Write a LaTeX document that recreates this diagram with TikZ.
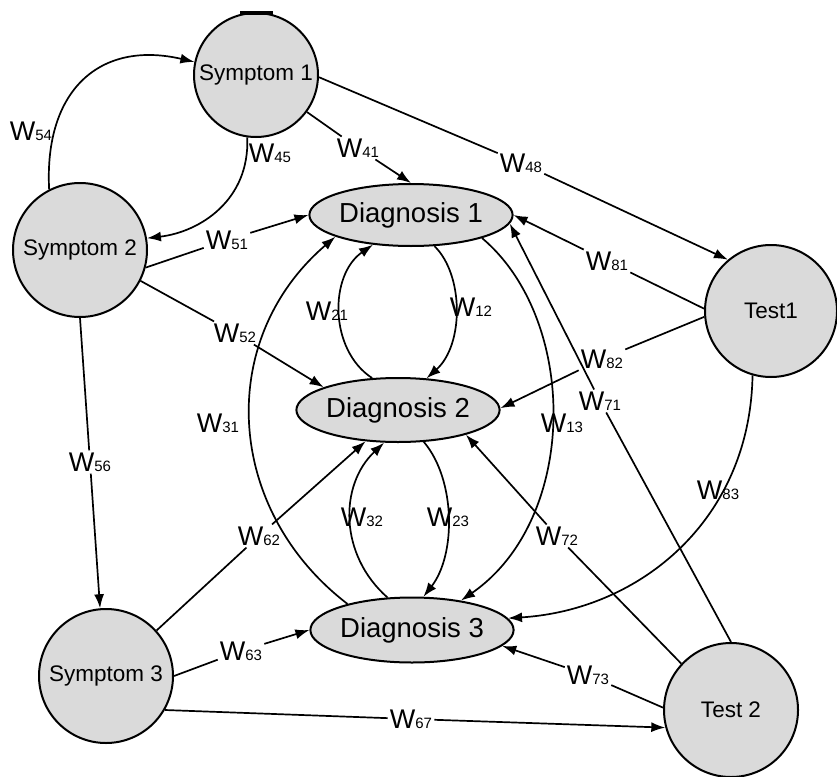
\documentclass[tikz,border=0pt]{standalone}
\usepackage{fontspec}
\setmainfont{Liberation Sans}
\usetikzlibrary{shapes.geometric,arrows.meta}
\definecolor{nodegray}{RGB}{218,218,218}
\newcommand\wlab[1]{W{\fontsize{15}{15}\selectfont #1}}
\begin{document}
\begin{tikzpicture}[x=1pt,y=-1pt,
  circ/.style={circle,draw,line width=2pt,fill=nodegray,inner sep=0pt,minimum size=#1,font=\fontsize{22.5}{24}\selectfont},
  diag/.style={ellipse,draw,line width=2pt,fill=nodegray,inner sep=0pt,minimum width=200pt,minimum height=62pt,font=\fontsize{27.5}{30}\selectfont},
  wl/.style={inner sep=2pt,font=\fontsize{27}{28}\selectfont},
  conn/.style={line width=1.7pt},
  arr/.style={conn,-{Latex[length=14pt,width=10pt]}},
]
\useasboundingbox (0,0) rectangle (837,776);

% nodes
\node[circ=124pt] (s1) at (256,75) {Symptom 1};
\node[circ=134pt] (s2) at (80,250) {Symptom 2};
\node[circ=134pt] (s3) at (106,676) {Symptom 3};
\node[circ=132pt] (t1) at (771,311) {Test1};
\node[circ=134pt] (t2) at (731,710) {Test 2};
\fill (240,11) rectangle (273,15);

\node[diag] (d1) at (411,215) {Diagnosis 1};
\node[diag,minimum height=64pt] (d2) at (398,410) {Diagnosis 2};
\node[diag,minimum height=65pt] (d3) at (412,630) {Diagnosis 3};

% labels
\node[wl] (w54) at (31,131) {\wlab{54}};
\node[wl] (w45) at (270,153) {\wlab{45}};
\node[wl] (w41) at (358,148) {\wlab{41}};
\node[wl] (w48) at (521,163) {\wlab{48}};
\node[wl] (w51) at (227,240) {\wlab{51}};
\node[wl] (w52) at (235,333) {\wlab{52}};
\node[wl] (w56) at (90,462) {\wlab{56}};
\node[wl] (w21) at (327,311) {\wlab{21}};
\node[wl] (w12) at (471,307) {\wlab{12}};
\node[wl] (w13) at (562,423) {\wlab{13}};
\node[wl] (w31) at (218,423) {\wlab{31}};
\node[wl] (w32) at (362,517) {\wlab{32}};
\node[wl] (w23) at (448,517) {\wlab{23}};
\node[wl] (w62) at (259,536) {\wlab{62}};
\node[wl] (w63) at (241,651) {\wlab{63}};
\node[wl] (w67) at (411,719) {\wlab{67}};
\node[wl] (w81) at (607,261) {\wlab{81}};
\node[wl] (w82) at (602,359) {\wlab{82}};
\node[wl] (w71) at (600,401) {\wlab{71}};
\node[wl] (w72) at (557,536) {\wlab{72}};
\node[wl] (w73) at (588,675) {\wlab{73}};
\node[wl] (w83) at (718,490) {\wlab{83}};

% straight connectors through labels
\draw[conn] (s1.324) -- (w41); \draw[arr] (w41) -- (d1.90);
\draw[conn] (s1.358) -- (w48); \draw[arr] (w48) -- (t1.130);
\draw[conn] (s2.345) -- (w51); \draw[arr] (w51) -- (d1.180);
\draw[conn] (s2.333) -- (w52); \draw[arr] (w52) -- (d2.163);
\draw[conn] (s2.270) -- (w56); \draw[arr] (w56) -- (s3.95);
\draw[conn] (s3.42) -- (w62); \draw[arr] (w62) -- (d2.224);
\draw[conn] (s3.0) -- (w63); \draw[arr] (w63) -- (d3.180);
\draw[conn] (s3.330) -- (w67); \draw[arr] (w67) -- (t2.195);
\draw[conn] (t1.178) -- (w81); \draw[arr] (w81) -- (d1.0);
\draw[conn] (t1.185) -- (w82); \draw[arr] (w82) -- (d2.1);
\draw[conn] (t2.90) -- (w71); \draw[arr] (w71) -- (d1.355);
\draw[conn] (t2.137) -- (w72); \draw[arr] (w72) -- (d2.340);
\draw[conn] (t2.178) -- (w73); \draw[arr] (w73) -- (d3.350);

% curved connectors
\draw[arr] (s2.117) .. controls (44,90) and (100,40) .. (s1.168);
\draw[arr] (s1.262) .. controls (250,200) and (200,232) .. (s2.10);
\draw[arr] (d2.129) .. controls (329,350) and (329,275) .. (d1.218);
\draw[arr] (d1.307) .. controls (464,275) and (464,345) .. (d2.48);
\draw[arr] (d1.342) .. controls (579,320) and (579,519) .. (d3.31);
\draw[arr] (d3.158) .. controls (225,510) and (215,340) .. (d1.196);
\draw[arr] (d3.127) .. controls (339,555) and (339,485) .. (d2.247);
\draw[arr] (d2.309) .. controls (456,480) and (456,555) .. (d3.71);
\draw[arr] (t1.254) .. controls (750,520) and (640,610) .. (d3.7);
\end{tikzpicture}
\end{document}
